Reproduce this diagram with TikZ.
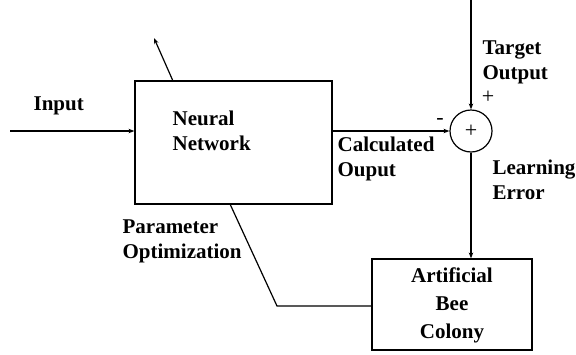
\documentclass[tikz,border=0pt]{standalone}
\usepackage{fontspec}
\setmainfont{Liberation Serif}
\usetikzlibrary{arrows.meta}
\begin{document}
\begin{tikzpicture}[x=1pt,y=-1pt,
  line width=1.2pt,
  arr/.style={-{Stealth[length=6pt,width=4.5pt]}},
  blk/.style={draw,rectangle,inner sep=0pt},
  lbl/.style={font=\fontsize{21}{25}\selectfont\bfseries,align=left,inner sep=0pt,anchor=west},
  lblc/.style={font=\fontsize{21}{28}\selectfont\bfseries,align=center,inner sep=0pt},
  sym/.style={font=\fontsize{22}{22}\selectfont,inner sep=0pt}]
\useasboundingbox (0,0) rectangle (576,354);
% blocks
\node[blk,minimum width=197pt,minimum height=123pt] (nn) at (233.5,142.5) {};
\node[blk,minimum width=160pt,minimum height=91pt] (abc) at (452,304.5) {};
\node[draw,circle,minimum size=42pt,inner sep=0pt,sym] (sum) at (471,131) {+};
% texts
\node[lbl] (nntext) at (172,130.5) {Neural\\Network};
\node[lblc] (abctext) at (452,305) {Artificial\\Bee\\Colony};
\node[lbl] (inputlbl) at (33,106) {Input};
\node[lbl] (targetlbl) at (482,62) {Target\\Output};
\node[sym] (plus) at (488,97) {+};
\node[sym] (minus) at (440,121) {-};
\node[lbl] (calclbl) at (337,159) {Calculated\\Ouput};
\node[lbl] (errlbl) at (492,180) {Learning\\Error};
\node[lbl] (paramlbl) at (122,241.5) {Parameter\\Optimization};
% coordinates
\coordinate (inp) at (10,131);
\coordinate (top) at (471,0);
\coordinate (up1) at (173,81);
\coordinate (up2) at (154,38);
\coordinate (p1) at (230,204);
\coordinate (p2) at (277,306);
% connectors
\draw[arr] (inp) -- (inp -| nn.west);
\draw[arr] (up1) -- (up2);
\draw[arr] (nn.east |- sum.west) -- (sum.west);
\draw[arr] (top) -- (sum.north);
\draw[arr] (sum.south) -- (sum.south |- abc.north);
\draw (p1) -- (p2) -- (p2 -| abc.west);
\end{tikzpicture}
\end{document}
